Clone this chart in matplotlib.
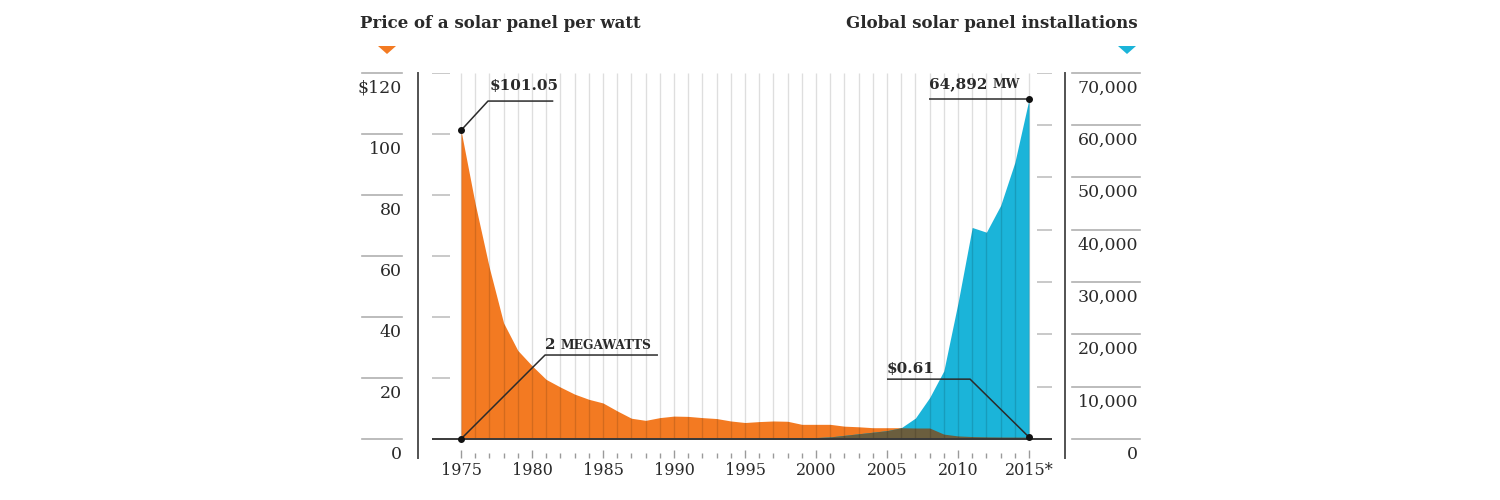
import matplotlib
matplotlib.use('Agg')
import matplotlib.pyplot as plt
from matplotlib.patches import Polygon
import numpy as np

plt.rcParams['font.family'] = ['DejaVu Serif']

# data
years = list(range(1975, 2016))
price = [101.05, 77, 56, 38, 29, 24, 19.5, 17, 14.7, 13,
         11.8, 9.2, 6.8, 6.1, 7.0, 7.5, 7.4, 7.0, 6.7, 5.9,
         5.4, 5.7, 5.9, 5.8, 4.8, 4.8, 4.8, 4.2, 4.0, 3.7,
         3.7, 3.7, 3.6, 3.6, 1.6, 1.0, 0.8, 0.7, 0.65, 0.63, 0.61]
installed = [2, 2, 3, 4, 5, 7, 9, 10, 13, 17,
             21, 26, 29, 34, 40, 46, 55, 58, 60, 69,
             78, 89, 126, 155, 201, 277, 400, 700, 1000, 1300,
             1600, 2150, 4000, 7900, 13000, 26000, 40400, 39500, 44600, 52800, 64892]
price_ticks = [0, 20, 40, 60, 80, 100, 120]
price_labels = ['0', '20', '40', '60', '80', '100', '$120']
mw_ticks = [0, 10000, 20000, 30000, 40000, 50000, 60000, 70000]
year_labels = ['1975', '1980', '1985', '1990', '1995', '2000', '2005', '2010', '2015*']

ORANGE = '#f37a22'
BLUE = '#1bb4d9'
OLIVE = '#6b5e3e'
TXT = '#2a2a2a'

W, H = 1500, 500
def fx(px):
    return px / W
def fy(py):
    return 1 - py / H

fig = plt.figure(figsize=(15, 5), dpi=100)
ax = fig.add_axes([fx(418), fy(458), fx(1065) - fx(418), fy(72.5) - fy(458)])
ax2 = ax.twinx()

ppx = 120 / 366.5          # price units per pixel
ax.set_ylim(-19 * ppx, 120)
k = 70000 / 120            # MW per price unit
ax2.set_ylim(-19 * ppx * k, 70000)
ax.set_xlim(1975 - 43 / 14.2, 2015 + 36 / 14.2)

price_a = np.array(price)
inst_a = np.array(installed)

ax.fill_between(years, price_a, 0, color=ORANGE, lw=0, zorder=1)
ax2.fill_between(years, inst_a, 0, color=BLUE, lw=0, zorder=1)
ax2.fill_between(years, np.minimum(price_a * k, inst_a), 0, color=OLIVE, lw=0, zorder=2)

# year gridlines over the fills
ax2.vlines(years, 0, 70000, color='black', alpha=0.13, lw=1, zorder=3)
ax2.hlines(0, 1975 - 29 / 14.2, 2015 + 23 / 14.2, color='#3a3a3a', lw=1.4, zorder=5)

# spines / ticks
for a in (ax, ax2):
    a.spines['top'].set_visible(False)
    a.spines['bottom'].set_visible(False)
    a.spines['left'].set_color('#555555')
    a.spines['right'].set_color('#555555')
    a.spines['left'].set_linewidth(1.3)
    a.spines['right'].set_linewidth(1.3)
    a.set_yticks([])
ax.set_xticks(years[::5])
ax.set_xticklabels(year_labels, fontsize=11.5, color=TXT)
ax.set_xticks(years, minor=True)
ax.tick_params(axis='x', which='major', direction='in', length=6, width=1, color='#9a9a9a', pad=3)
ax.tick_params(axis='x', which='minor', direction='in', length=3.5, width=1, color='#9a9a9a')

# left scale
ytr = ax.get_yaxis_transform()
lx0, lx1 = (362 - 418) / 647, (402 - 418) / 647
for v, lbl in zip(price_ticks, price_labels):
    ax.plot([lx0, lx1], [v, v], transform=ytr, clip_on=False, color='#b0b0b0', lw=1.2)
    ax.annotate(lbl, xy=(lx1, v), xycoords=ytr, xytext=(0, -5), textcoords='offset points',
                ha='right', va='top', fontsize=12.5, color=TXT, annotation_clip=False)
ax.hlines(price_ticks[1:], 1975 - 29 / 14.2, 1975 - 11 / 14.2, color='#c0c0c0', lw=1.2, zorder=4)

# right scale
ytr2 = ax2.get_yaxis_transform()
rx0, rx1 = (1072 - 418) / 647, (1140 - 418) / 647
for v in mw_ticks:
    ax2.plot([rx0, rx1], [v, v], transform=ytr2, clip_on=False, color='#b0b0b0', lw=1.2)
    ax2.annotate(f'{v:,}', xy=(rx1 - 0.003, v), xycoords=ytr2, xytext=(0, -5), textcoords='offset points',
                 ha='right', va='top', fontsize=12.5, color=TXT, annotation_clip=False)
ax2.hlines(mw_ticks[1:], 2015 + 8 / 14.2, 2015 + 23 / 14.2, color='#c0c0c0', lw=1.2, zorder=4)

# annotations (all on the top axes so nothing is hidden by the fills)
lead = dict(color='#2b2b2b', lw=1.1, zorder=6, solid_capstyle='butt')
dot = dict(marker='o', ms=4, color='#111111', zorder=7, ls='none')

# $101.05
x0, y0 = years[0], price[0]
ax2.plot([x0, x0 + 1.9, x0 + 6.5], [y0 * k, (y0 + 9.6) * k, (y0 + 9.6) * k], **lead)
ax2.plot([x0], [y0 * k], **dot)
ax2.text(x0 + 2.05, (y0 + 13.2) * k, f'${price[0]:.2f}', fontsize=11, fontweight='bold', color=TXT,
         ha='left', va='baseline', zorder=8)

# 2 MEGAWATTS
x0, y0 = years[0], installed[0]
ax2.plot([x0, x0 + 5.92, x0 + 13.87], [y0, 16040, 16040], **lead)
ax2.plot([x0], [y0], **dot)
t = ax2.text(x0 + 5.92, 17200, f'{installed[0]}', fontsize=11, fontweight='bold', color=TXT,
             ha='left', va='baseline', zorder=8)
ax2.annotate('MEGAWATTS', xy=(1, 17200), xycoords=(t, 'data'), xytext=(3.5, 0), textcoords='offset points',
             fontsize=8.8, fontweight='bold', color=TXT, ha='left', va='baseline', zorder=8)

# $0.61
x1, y1 = years[-1], price[-1]
ax2.plot([x1, x1 - 4.15, x1 - 10], [y1 * k, 19.6 * k, 19.6 * k], **lead)
ax2.plot([x1], [y1 * k], **dot)
ax2.text(x1 - 10, 21.6 * k, f'${price[-1]:.2f}', fontsize=11, fontweight='bold', color=TXT,
         ha='left', va='baseline', zorder=8)

# 64,892 MW
x1, y1 = years[-1], installed[-1]
ax2.plot([x1 - 7.04, x1], [y1, y1], **lead)
ax2.plot([x1], [y1], **dot)
t = ax2.text(x1 - 7.04, 67000, f'{installed[-1]:,}', fontsize=11, fontweight='bold', color=TXT,
             ha='left', va='baseline', zorder=8)
ax2.annotate('MW', xy=(1, 67000), xycoords=(t, 'data'), xytext=(3.5, 0), textcoords='offset points',
             fontsize=8.8, fontweight='bold', color=TXT, ha='left', va='baseline', zorder=8)

# titles and markers
fig.text(fx(360), fy(28), 'Price of a solar panel per watt', fontsize=12, fontweight='bold',
         color=TXT, ha='left', va='baseline')
fig.text(fx(1138), fy(28), 'Global solar panel installations', fontsize=12, fontweight='bold',
         color=TXT, ha='right', va='baseline')
for cx, col in ((387, ORANGE), (1127, BLUE)):
    tri = Polygon([(fx(cx - 9), fy(46)), (fx(cx + 9), fy(46)), (fx(cx), fy(54))],
                  closed=True, transform=fig.transFigure, color=col, lw=0)
    fig.patches.append(tri)

fig.savefig('out.png', dpi=100)
